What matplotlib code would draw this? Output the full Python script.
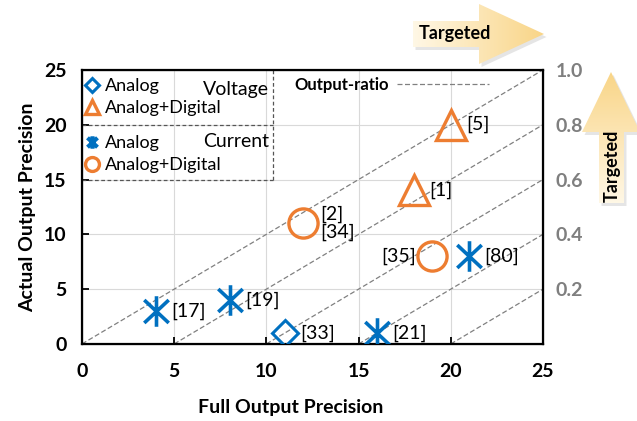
import numpy as np
import matplotlib
matplotlib.use('Agg')
import matplotlib.pyplot as plt
from matplotlib.lines import Line2D
from matplotlib.patches import Polygon
from matplotlib.path import Path

plt.rcParams['font.family'] = ['Lato', 'DejaVu Sans']

# data: (full precision, actual precision, reference)
volt_analog_x = [11]
volt_analog_y = [1]
volt_analog_ref = ['[33]']

volt_ad_x = [20, 18]
volt_ad_y = [20, 14]
volt_ad_ref = ['[5]', '[1]']

curr_analog_x = [4, 8, 16, 21]
curr_analog_y = [3, 4, 1, 8]
curr_analog_ref = ['[17]', '[19]', '[21]', '[80]']

curr_ad_x = [12, 19]
curr_ad_y = [11, 8]
curr_ad_ref = ['[2]\n[34]', '[35]']

# output-ratio guide lines start at these x offsets on y=0
ratio_offsets = [0, 5, 10, 15, 20]
ratio_ticks = [0.2, 0.4, 0.6, 0.8, 1.0]

blue = '#0070C0'
orange = '#ED7D31'
# vertical bar plus an X, like the excel asterisk
asterisk = Path([(0, -1), (0, 1), (-0.8, -0.75), (0.8, 0.75), (-0.8, 0.75), (0.8, -0.75)],
                [Path.MOVETO, Path.LINETO] * 3)

fig = plt.figure(figsize=(6.37, 4.21), dpi=100)
ax = fig.add_axes([0.1287, 0.183, 0.7237, 0.651])

for off in ratio_offsets:
    xs = np.array([off, 25])
    ax.plot(xs, xs - off, ls='--', color='#808080', lw=0.9, dashes=(4, 2), zorder=2)

ax.plot(volt_analog_x, volt_analog_y, 'D', ms=13, mfc='none', mec=blue, mew=2.2, ls='none', zorder=3)
ax.plot(volt_ad_x, volt_ad_y, '^', ms=22, mfc='none', mec=orange, mew=2.4, ls='none', zorder=3)
ax.plot(curr_analog_x, curr_analog_y, marker=asterisk, ms=22, color=blue, mew=2.6, ls='none', zorder=3)
ax.plot(curr_ad_x, curr_ad_y, 'o', ms=21, mfc='none', mec=orange, mew=2.4, ls='none', zorder=3)

def label_points(xs, ys, refs, dx=11, ha='left'):
    for x, y, r in zip(xs, ys, refs):
        ax.annotate(r, (x, y), xytext=(dx, 0), textcoords='offset points',
                    ha=ha, va='center', fontsize=14, linespacing=1.0)

label_points(volt_analog_x, volt_analog_y, volt_analog_ref)
label_points(volt_ad_x, volt_ad_y, volt_ad_ref)
label_points(curr_analog_x, curr_analog_y, curr_analog_ref)
label_points(curr_ad_x[:1], curr_ad_y[:1], curr_ad_ref[:1], dx=12)
label_points(curr_ad_x[1:], curr_ad_y[1:], curr_ad_ref[1:], dx=-12, ha='right')

ax.set_xlim(0, 25)
ax.set_ylim(0, 25)
ax.set_xticks([0, 5, 10, 15, 20, 25])
ax.set_yticks([0, 5, 10, 15, 20, 25])
ax.grid(True, color='#d9d9d9', lw=0.8)
ax.set_axisbelow(True)
ax.tick_params(direction='in', length=5, width=1.3, labelsize=14)
ax.tick_params(axis='x', pad=14)
ax.tick_params(axis='y', pad=11)
for lab in ax.get_xticklabels() + ax.get_yticklabels():
    lab.set_fontweight('bold')
for s in ax.spines.values():
    s.set_linewidth(1.6)
ax.set_xlabel('Full Output Precision', fontsize=14, fontweight='bold')
ax.set_ylabel('Actual Output Precision', fontsize=14, fontweight='bold', labelpad=6)
ax.xaxis.set_label_coords(0.453, -0.20)

ax2 = ax.twinx()
ax2.set_ylim(0, 1)
ax2.set_yticks(ratio_ticks)
ax2.set_yticklabels(['%.1f' % t for t in ratio_ticks], color='#7f7f7f', fontweight='bold', fontsize=14)
ax2.tick_params(length=0, pad=9)

# legends
h_va = Line2D([], [], marker='D', ms=7, mfc='none', mec=blue, mew=2.2, ls='none')
h_vad = Line2D([], [], marker='^', ms=10, mfc='none', mec=orange, mew=2.4, ls='none')
h_ca = Line2D([], [], marker=asterisk, ms=9, color=blue, mew=3.0, ls='none')
h_cad = Line2D([], [], marker='o', ms=10, mfc='none', mec=orange, mew=2.4, ls='none')
leg_kw = dict(loc='upper left', frameon=False, fontsize=13, borderpad=0, borderaxespad=0,
              handlelength=0.8, handletextpad=0.35, labelspacing=0.35)
leg1 = ax.legend([h_va, h_vad], ['Analog', 'Analog+Digital'], bbox_to_anchor=(0.005, 0.97), **leg_kw)
ax.add_artist(leg1)
leg2 = ax.legend([h_ca, h_cad], ['Analog', 'Analog+Digital'], bbox_to_anchor=(0.005, 0.763), **leg_kw)
ax.add_artist(leg2)
ax.text(0.405, 0.93, 'Voltage', transform=ax.transAxes, ha='right', va='center', fontsize=14)
ax.text(0.405, 0.74, 'Current', transform=ax.transAxes, ha='right', va='center', fontsize=14)
box_kw = dict(transform=ax.transAxes, color='#555555', lw=0.9, ls='--', dashes=(3, 2), clip_on=False)
ax.plot([0, 0.414], [0.80, 0.80], **box_kw)
ax.plot([0, 0.414], [0.60, 0.60], **box_kw)
ax.plot([0.414, 0.414], [0.60, 1.0], **box_kw)

h_ratio = Line2D([], [], ls='--', color='#808080', lw=0.9, dashes=(4, 2))
leg3 = ax.legend([h_ratio], ['Output-ratio'], loc='upper left', bbox_to_anchor=(0.46, 0.975),
                 frameon=False, markerfirst=False, handlelength=5.5, handletextpad=0.5,
                 borderpad=0, borderaxespad=0, prop={'weight': 'bold', 'size': 12})

# "Targeted" arrows drawn in pixel space over the whole figure
over = fig.add_axes([0, 0, 1, 1], facecolor='none')
over.set_xlim(0, 637)
over.set_ylim(421, 0)
over.axis('off')

def gradient_arrow(pts, horizontal):
    shadow = Polygon(np.array(pts) + [2.5, 3], closed=True, fc='#999999', ec='none', alpha=0.25)
    over.add_patch(shadow)
    poly = Polygon(pts, closed=True, fc='none', ec='none')
    over.add_patch(poly)
    xs = [p[0] for p in pts]
    ys = [p[1] for p in pts]
    g = np.linspace(0, 1, 256)
    c0 = np.array([1.0, 0.97, 0.90])
    c1 = np.array([0.976, 0.835, 0.53])
    if horizontal:
        img = (c0[None, :] * (1 - g[:, None]) + c1[None, :] * g[:, None])[None, :, :]
    else:
        img = (c1[None, :] * (1 - g[:, None]) + c0[None, :] * g[:, None])[:, None, :]
    im = over.imshow(img, extent=(min(xs), max(xs), max(ys), min(ys)), aspect='auto', zorder=2)
    im.set_clip_path(poly)

gradient_arrow([(413, 21), (479, 21), (479, 4), (544, 34), (479, 64), (479, 47), (413, 47)], True)
gradient_arrow([(599, 203), (599, 132), (582, 132), (611, 72), (640, 132), (624, 132), (624, 203)], False)
over.text(455, 33, 'Targeted', ha='center', va='center', fontsize=13, fontweight='bold', zorder=3)
over.text(612, 166, 'Targeted', ha='center', va='center', fontsize=13, fontweight='bold',
          rotation=90, zorder=3)

fig.savefig('out.png', dpi=100)
